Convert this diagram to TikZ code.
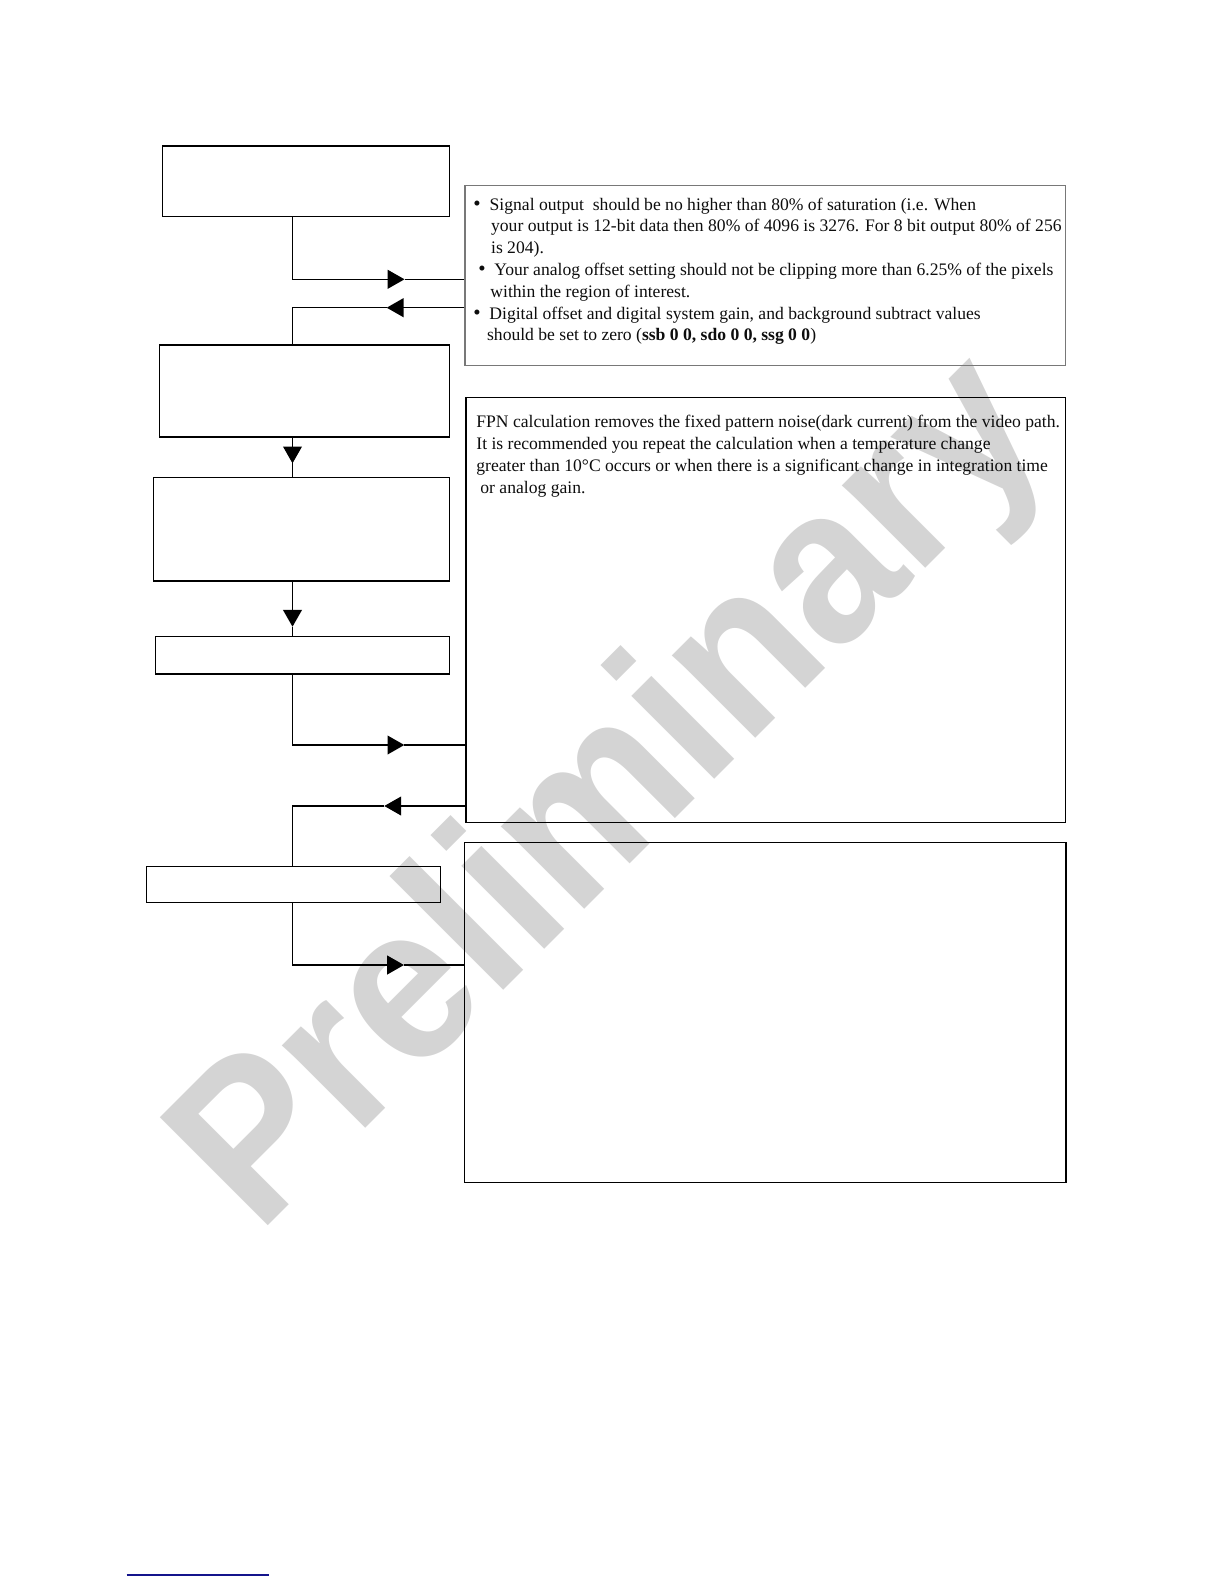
\documentclass[tikz,border=0pt]{standalone}
\usepackage{fontspec}
\setmainfont{Liberation Serif}
\newfontfamily\wmfont{Liberation Sans}
\usetikzlibrary{arrows.meta}
\definecolor{wmgray}{RGB}{212,212,212}
\definecolor{footblue}{RGB}{20,20,140}
\definecolor{infoborder}{RGB}{120,120,120}
\tikzset{
  flowbox/.style={draw=black, line width=0.7pt, inner sep=0pt},
  infobox/.style={draw=infoborder, line width=0.7pt, inner sep=0pt},
  notebox/.style={draw=black, line width=0.7pt, inner sep=0pt},
  txt/.style={anchor=base west, inner sep=0pt, font=\fontsize{8.8}{10.75}\selectfont, text=black!95},
  bul/.style={anchor=base west, inner sep=0pt, font=\fontsize{10.5}{10.75}\selectfont, text=black!95},
  conn/.style={line width=0.65pt, black},
  tri/.style={conn, -{Triangle[length=8.4pt,width=9.4pt]}},
  wmtext/.style={text=wmgray, font=\wmfont\bfseries\fontsize{111}{111}\selectfont, inner sep=0pt}
}
\begin{document}
\begin{tikzpicture}[x=0.5pt,y=-0.5pt]
\useasboundingbox (0,0) rectangle (1224,1584);

% watermark
\node[wmtext, rotate=45, anchor=base west] (wm) at (258,1236) {\scalebox{0.93}[1]{Preliminary}};

% flow boxes
\node[flowbox, minimum width=143.5pt, minimum height=35.15pt] (b1) at (305.8,181.2) {};
\node[flowbox, minimum width=145pt, minimum height=46pt] (b2) at (304.3,391) {};
\node[flowbox, minimum width=148pt, minimum height=51.85pt] (b3) at (301.3,529.2) {};
\node[flowbox, minimum width=147pt, minimum height=18.65pt] (b4) at (302.3,655.4) {};
\node[flowbox, minimum width=147pt, minimum height=17.8pt] (b5) at (293.3,884.5) {};

% note boxes
\node[infobox, minimum width=300.35pt, minimum height=90pt] (info) at (765.35,275.7) {};
\node[notebox, minimum width=299.85pt, minimum height=212.3pt] (fpn) at (765.85,610) {};
\node[notebox, minimum width=300.85pt, minimum height=170.1pt] (last) at (765.15,1012.6) {};

% info text
\node[bul] (u1) at (473,210) {\textbullet};
\node[txt] (t1) at (489.3,210) {Signal output\ \ should be no higher than 80\% of saturation (i.e. When};
\node[txt] (t2) at (490.7,231.5) {your output is 12-bit data then 80\% of 4096 is 3276. For 8 bit output 80\% of 256};
\node[txt] (t3) at (490.7,253) {is 204).};
\node[bul] (u2) at (478,275.5) {\textbullet};
\node[txt] (t4) at (494,275.5) {Your analog offset setting should not be clipping more than 6.25\% of the pixels};
\node[txt] (t5) at (490,297) {within the region of interest.};
\node[bul] (u3) at (473,319) {\textbullet};
\node[txt] (t6) at (489,319) {Digital offset and digital system gain, and background subtract values};
\node[txt] (t7) at (486.7,340.5) {should be set to zero (\textbf{ssb 0 0, sdo 0 0, ssg 0 0})};

% FPN text
\node[txt] (f1) at (476,427) {FPN calculation removes the fixed pattern noise(dark current) from the video path.};
\node[txt] (f2) at (476,449) {It is recommended you repeat the calculation when a temperature change};
\node[txt] (f3) at (476,471) {greater than 10°C occurs or when there is a significant change in integration time};
\node[txt] (f4) at (480,493) {or analog gain.};

% connectors
\coordinate (col) at (292.5,0);
\coordinate (k1) at (292.5,279.3);
\coordinate (a1) at (404.5,279.3);
\draw[tri] (b1.south -| col) -- (k1) -- (a1);
\draw[conn] (a1) -- (a1 -| info.west);

\coordinate (k2) at (292.5,307.7);
\coordinate (a2) at (386.7,307.7);
\draw[tri] (a2 -| info.west) -- (a2);
\draw[conn] (a2) -- (k2) -- (b2.north -| col);

\coordinate (a3) at (292.5,463.3);
\draw[tri] (b2.south -| col) -- (a3);
\draw[conn] (a3) -- (b3.north -| col);

\coordinate (a4) at (292.5,626.7);
\draw[tri] (b3.south -| col) -- (a4);
\draw[conn] (a4) -- (b4.north -| col);

\coordinate (k5) at (292.5,745);
\coordinate (a5) at (404.3,745);
\draw[tri] (b4.south -| col) -- (k5) -- (a5);
\draw[conn] (a5) -- (a5 -| fpn.west);

\coordinate (k6) at (292.5,806);
\coordinate (a6) at (384.3,806);
\draw[tri] (a6 -| fpn.west) -- (a6);
\draw[conn] (a6) -- (k6) -- (b5.north -| col);

\coordinate (k7) at (292.5,965);
\coordinate (a7) at (404,965);
\draw[tri] (b5.south -| col) -- (k7) -- (a7);
\draw[conn] (a7) -- (a7 -| last.west);

% footer rule
\coordinate (fl1) at (126.7,1575);
\coordinate (fl2) at (269,1575);
\draw[footblue, line width=0.6pt] (fl1) -- (fl2);
\end{tikzpicture}
\end{document}
